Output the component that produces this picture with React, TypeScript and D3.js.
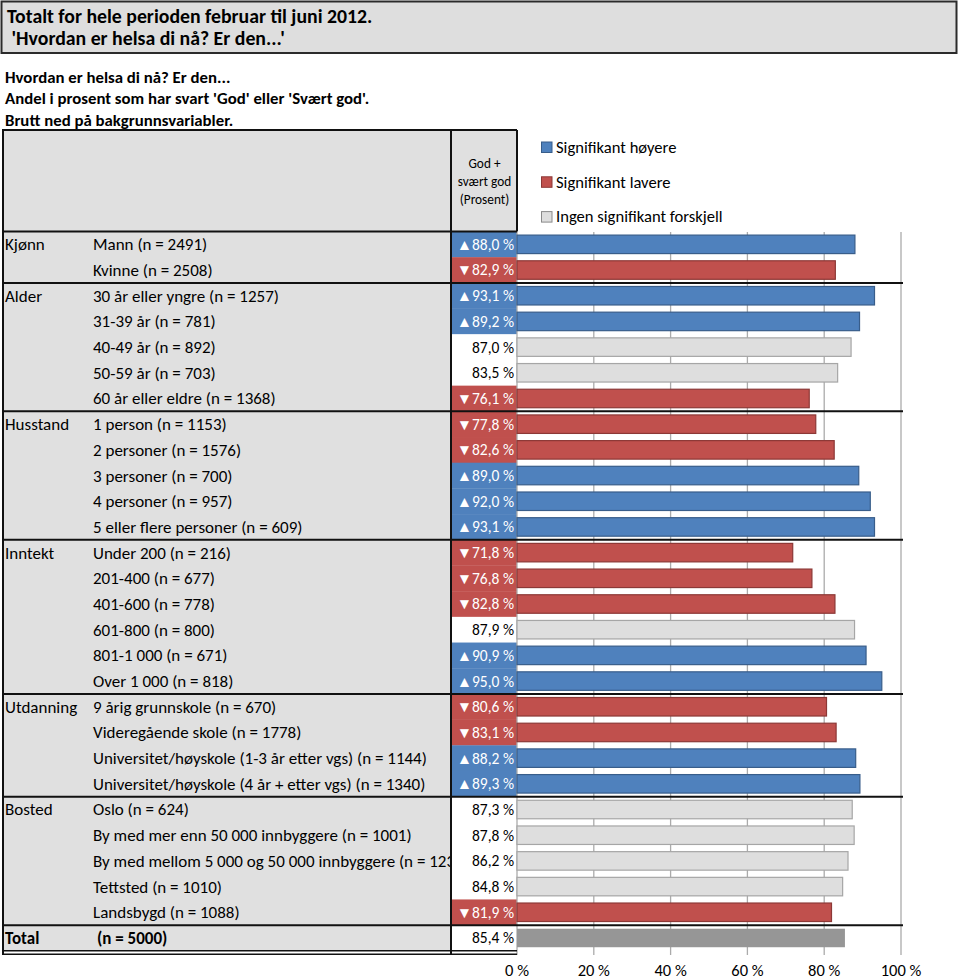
import React from "react";
import * as d3 from "d3";

const groups = ["Kjønn", "Alder", "Husstand", "Inntekt", "Utdanning", "Bosted"];
const groupSizes = [2, 5, 5, 6, 4, 5];
const labels = [
  "Mann (n = 2491)",
  "Kvinne (n = 2508)",
  "30 år eller yngre (n = 1257)",
  "31-39 år (n = 781)",
  "40-49 år (n = 892)",
  "50-59 år (n = 703)",
  "60 år eller eldre (n = 1368)",
  "1 person (n = 1153)",
  "2 personer (n = 1576)",
  "3 personer (n = 700)",
  "4 personer (n = 957)",
  "5 eller flere personer (n = 609)",
  "Under 200 (n = 216)",
  "201-400 (n = 677)",
  "401-600 (n = 778)",
  "601-800 (n = 800)",
  "801-1 000 (n = 671)",
  "Over 1 000 (n = 818)",
  "9 årig grunnskole (n = 670)",
  "Videregående skole (n = 1778)",
  "Universitet/høyskole (1-3 år etter vgs) (n = 1144)",
  "Universitet/høyskole (4 år + etter vgs) (n = 1340)",
  "Oslo (n = 624)",
  "By med mer enn 50 000 innbyggere (n = 1001)",
  "By med mellom 5 000 og 50 000 innbyggere (n = 1236)",
  "Tettsted (n = 1010)",
  "Landsbygd (n = 1088)",
];
const values = [
  88.0, 82.9, 93.1, 89.2, 87.0, 83.5, 76.1, 77.8, 82.6, 89.0, 92.0, 93.1, 71.8, 76.8, 82.8, 87.9, 90.9, 95.0,
  80.6, 83.1, 88.2, 89.3, 87.3, 87.8, 86.2, 84.8, 81.9,
];
// 1 = significantly higher, -1 = significantly lower, 0 = no significant difference
const signif = [1, -1, 1, 1, 0, 0, -1, -1, -1, 1, 1, 1, -1, -1, -1, 0, 1, 1, -1, -1, 1, 1, 0, 0, 0, 0, -1];
const totalLabel = "(n = 5000)";
const totalValue = 85.4;
const ticks = [0, 20, 40, 60, 80, 100];
const legendLabels = ["Signifikant høyere", "Signifikant lavere", "Ingen signifikant forskjell"];

const FONT = "Carlito, Lato, 'Noto Sans', sans-serif";
const BLUE = "#4f81bd";
const BLUE_S = "#385d8a";
const RED = "#c0504d";
const RED_S = "#8c3836";
const LGRAY = "#dedede";
const LGRAY_S = "#a6a6a6";
const TGRAY = "#969696";

const fmt = (v: number) => v.toFixed(1).replace(".", ",") + " %";

export default function App() {
  const W = 960;
  const H = 979;
  const tableLeft = 2;
  const colDiv = 451;
  const valRight = 517;
  const tableTop = 130;
  const headBottom = 231.5;
  const nRows = labels.length + 1;
  const rowH = 25.69;
  const rowsBottom = headBottom + nRows * rowH;

  const x = d3.scaleLinear().domain([0, 100]).range([517, 901]);
  const y = d3
    .scaleBand<number>()
    .domain(d3.range(nRows))
    .range([headBottom, rowsBottom])
    .paddingInner(0.28)
    .paddingOuter(0.14);

  const rowTop = (i: number) => headBottom + i * rowH;
  const rowMid = (i: number) => headBottom + (i + 0.5) * rowH;

  const groupStarts: number[] = [];
  let acc = 0;
  groupSizes.forEach((s) => {
    groupStarts.push(acc);
    acc += s;
  });

  const colorOf = (s: number) => (s > 0 ? BLUE : s < 0 ? RED : "#ffffff");
  const barFill = (s: number) => (s > 0 ? BLUE : s < 0 ? RED : LGRAY);
  const barStroke = (s: number) => (s > 0 ? BLUE_S : s < 0 ? RED_S : LGRAY_S);

  return (
    <svg width={W} height={H} style={{ position: "absolute", left: 0, top: 0, fontFamily: FONT }}>
      <defs>
        <clipPath id="labclip">
          <rect x={0} y={0} width={colDiv - 1} height={H} />
        </clipPath>
      </defs>
      <rect x={0} y={0} width={W} height={H} fill="#fff" />
      {/* Title box */}
      <rect x={1.5} y={1.5} width={955} height={51.5} fill="#dedede" stroke="#2b2b2b" strokeWidth={2} />
      <text x={7} y={23} fontSize={19.8} fontWeight="bold" fill="#000">
        Totalt for hele perioden februar til juni 2012.
      </text>
      <text x={7} y={45} fontSize={19.8} fontWeight="bold" fill="#000" style={{ whiteSpace: "pre" }}>
        {" 'Hvordan er helsa di nå? Er den...'"}
      </text>
      {/* Subtitle */}
      {["Hvordan er helsa di nå? Er den...", "Andel i prosent som har svart 'God' eller 'Svært god'.", "Brutt ned på bakgrunnsvariabler."].map(
        (t, i) => (
          <text key={i} x={5} y={83 + i * 21.3} fontSize={16.8} fontWeight="bold" fill="#000">
            {t}
          </text>
        )
      )}

      {/* Table backgrounds */}
      <rect x={tableLeft} y={tableTop} width={colDiv - tableLeft} height={rowsBottom - tableTop} fill="#e0e0e0" />
      <rect x={colDiv} y={tableTop} width={valRight - colDiv} height={headBottom - tableTop} fill="#e0e0e0" />
      {signif.map((s, i) => (
        <rect key={"vc" + i} x={colDiv} y={rowTop(i)} width={valRight - colDiv} height={rowH + 0.3} fill={colorOf(s)} />
      ))}

      {/* header text */}
      {["God +", "svært god", "(Prosent)"].map((t, i) => (
        <text key={"h" + i} x={(colDiv + valRight) / 2 + 0.5} y={163 + i * 18} fontSize={13.3} textAnchor="middle" dy="0.35em" fill="#000">
          {t}
        </text>
      ))}

      {/* gridlines */}
      {ticks.map((t) => (
        <line key={"g" + t} x1={x(t)} x2={x(t)} y1={232} y2={955} stroke="#ababab" strokeWidth={1.3} />
      ))}

      {/* bars */}
      {values.map((v, i) => (
        <rect
          key={"b" + i}
          x={x(0)}
          y={y(i)!}
          width={x(v) - x(0)}
          height={y.bandwidth()}
          fill={barFill(signif[i])}
          stroke={barStroke(signif[i])}
          strokeWidth={1.2}
        />
      ))}
      <rect x={x(0)} y={y(nRows - 1)!} width={x(totalValue) - x(0)} height={y.bandwidth()} fill={TGRAY} />

      {/* value labels */}
      {values.map((v, i) => (
        <text
          key={"v" + i}
          x={514}
          y={rowMid(i)}
          dy="0.35em"
          textAnchor="end"
          fontSize={15.5}
          fill={signif[i] === 0 ? "#000" : "#fff"}
        >
          {(signif[i] > 0 ? "▲" : signif[i] < 0 ? "▼" : "") + fmt(v)}
        </text>
      ))}
      <text x={514} y={rowMid(nRows - 1)} dy="0.35em" textAnchor="end" fontSize={15.5} fill="#000">
        {fmt(totalValue)}
      </text>

      {/* row labels */}
      <g clipPath="url(#labclip)">
        {labels.map((l, i) => (
          <text key={"l" + i} x={93} y={rowMid(i)} dy="0.35em" fontSize={17} fill="#000">
            {l}
          </text>
        ))}
        {groups.map((g, gi) => (
          <text key={"gr" + gi} x={5} y={rowMid(groupStarts[gi])} dy="0.35em" fontSize={17} fill="#000">
            {g}
          </text>
        ))}
        <text x={5} y={rowMid(nRows - 1)} dy="0.35em" fontSize={17} fontWeight="bold" fill="#000">
          Total
        </text>
        <text x={97} y={rowMid(nRows - 1)} dy="0.35em" fontSize={17} fontWeight="bold" fill="#000">
          {totalLabel}
        </text>
      </g>

      {/* table lines */}
      <line x1={tableLeft} x2={valRight} y1={tableTop} y2={tableTop} stroke="#111" strokeWidth={2} />
      <line x1={tableLeft} x2={valRight} y1={headBottom} y2={headBottom} stroke="#111" strokeWidth={2} />
      {groupStarts.slice(1).map((gs, i) => (
        <line key={"sep" + i} x1={tableLeft} x2={903} y1={rowTop(gs)} y2={rowTop(gs)} stroke="#111" strokeWidth={2} />
      ))}
      <line x1={tableLeft} x2={903} y1={rowTop(nRows - 1)} y2={rowTop(nRows - 1)} stroke="#111" strokeWidth={2} />
      <line x1={tableLeft} x2={valRight} y1={rowsBottom} y2={rowsBottom} stroke="#111" strokeWidth={1.5} />
      <line x1={tableLeft} x2={valRight} y1={rowsBottom + 3.5} y2={rowsBottom + 3.5} stroke="#111" strokeWidth={1.5} />
      <line x1={tableLeft + 1} x2={tableLeft + 1} y1={tableTop} y2={rowsBottom + 3.5} stroke="#111" strokeWidth={2} />
      <line x1={colDiv} x2={colDiv} y1={tableTop} y2={rowsBottom + 3.5} stroke="#111" strokeWidth={2} />
      <line x1={valRight} x2={valRight} y1={tableTop} y2={headBottom} stroke="#111" strokeWidth={2} />

      {/* axis labels */}
      {ticks.map((t) => (
        <text key={"t" + t} x={x(t)} y={976} textAnchor="middle" fontSize={16.5} fill="#000">
          {t + " %"}
        </text>
      ))}

      {/* legend */}
      {legendLabels.map((l, i) => {
        const cols = [BLUE, RED, LGRAY];
        const strokes = [BLUE_S, RED_S, "#8a8a8a"];
        const cy = 147 + i * 34.8;
        return (
          <g key={"lg" + i}>
            <rect x={541.5} y={cy - 5} width={10.5} height={10.5} fill={cols[i]} stroke={strokes[i]} strokeWidth={1} />
            <text x={556} y={cy} dy="0.35em" fontSize={16.6} fill="#000">
              {l}
            </text>
          </g>
        );
      })}
    </svg>
  );
}
